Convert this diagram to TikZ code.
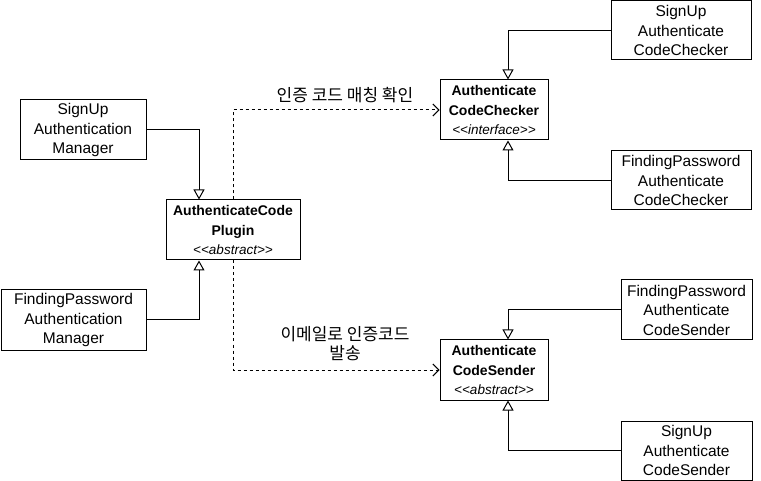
\documentclass[tikz,border=0pt]{standalone}
\usepackage{fontspec}
\newfontfamily\lsans{Liberation Sans}
\newfontfamily\kr{Noto Sans CJK KR}
\usetikzlibrary{arrows.meta}
\tikzset{
  cls/.style={draw, line width=1pt, inner sep=0pt, align=center, font=\lsans\fontsize{15.5}{19.5}\selectfont},
  abs/.style={draw, line width=1pt, inner sep=0pt, align=center, font=\lsans\fontsize{14}{19.5}\selectfont},
  inh/.style={line width=1pt, -{Triangle[open, length=10pt, width=11pt, fill=white]}},
  dep/.style={line width=1pt, dash pattern=on 3pt off 3pt, -{Straight Barb[length=6pt, width=12pt]}},
  lbl/.style={font=\kr\fontsize{17}{19}\selectfont, align=center, inner sep=0pt}
}
\begin{document}
\begin{tikzpicture}[x=1pt, y=-1pt]
\useasboundingbox (0,0) rectangle (761,481);
% class boxes
\node[cls, minimum width=126pt, minimum height=60pt] (suam) at (83,130) {SignUp\\Authentication\\Manager};
\node[cls, minimum width=145pt, minimum height=60pt] (fpam) at (73.5,320) {FindingPassword\\Authentication\\Manager};
\node[abs, minimum width=134pt, minimum height=60pt] (plugin) at (233,230) {\textbf{AuthenticateCode}\\\textbf{Plugin}\\{\fontsize{13.5}{15}\selectfont\itshape <<abstract>>}};
\node[abs, minimum width=108pt, minimum height=60pt] (checker) at (494,110) {\textbf{Authenticate}\\\textbf{CodeChecker}\\{\fontsize{13.5}{15}\selectfont\itshape <<interface>>}};
\node[abs, minimum width=108pt, minimum height=60pt] (sender) at (494,370) {\textbf{Authenticate}\\\textbf{CodeSender}\\{\fontsize{13.5}{15}\selectfont\itshape <<abstract>>}};
\node[cls, minimum width=140pt, minimum height=59pt] (suchk) at (681,30.5) {SignUp\\Authenticate\\CodeChecker};
\node[cls, minimum width=140pt, minimum height=59pt] (fpchk) at (681,180.5) {FindingPassword\\Authenticate\\CodeChecker};
\node[cls, minimum width=131pt, minimum height=60pt] (fpsnd) at (686.5,310) {FindingPassword\\Authenticate\\CodeSender};
\node[cls, minimum width=131pt, minimum height=59pt] (susnd) at (686.5,450.5) {SignUp\\Authenticate\\CodeSender};
% labels
\node[lbl] (l1) at (345,95) {인증 코드 매칭 확인};
\node[lbl] (l2) at (345,344) {이메일로 인증코드\\발송};
% inheritance
\draw[inh] (suam.east) -| ([xshift=-34pt]plugin.north);
\draw[inh] (fpam.east) -| ([xshift=-34pt]plugin.south);
\draw[inh] (suchk.west) -| ([xshift=14pt]checker.north);
\draw[inh] (fpchk.west) -| ([xshift=14pt]checker.south);
\draw[inh] (fpsnd.west) -| ([xshift=14pt]sender.north);
\draw[inh] (susnd.west) -| ([xshift=14pt]sender.south);
% dependencies
\draw[dep] (plugin.north) |- (checker.west);
\draw[dep] (plugin.south) |- (sender.west);
\end{tikzpicture}
\end{document}
